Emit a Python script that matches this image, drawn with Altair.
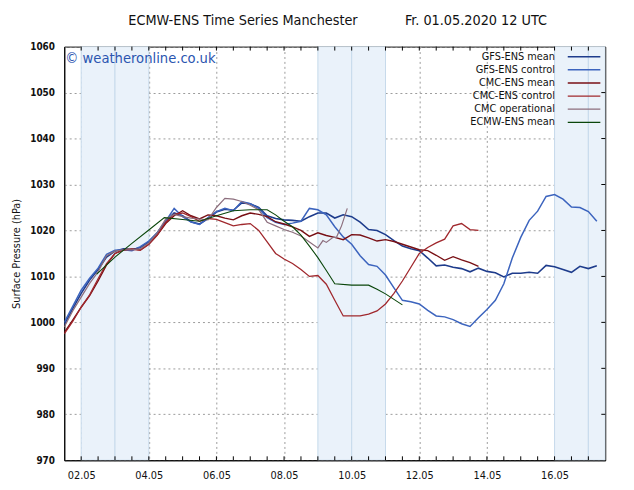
import altair as alt
import pandas as pd

FONT = "DejaVu Sans Condensed, DejaVu Sans, sans-serif"
W, H = 548, 419

series_names = ["GFS-ENS mean", "GFS-ENS control", "CMC-ENS mean",
                "CMC-ENS control", "CMC operational", "ECMW-ENS mean"]
series_colors = ["#1e3c8c", "#3c64be", "#780f14", "#a0282d", "#8c6e7d", "#0a460a"]
series_widths = [1.6, 1.1, 1.6, 1.1, 1.1, 1.3]

# time in days of May 2020 (1.5 = 01.05 12 UTC)
def six_hourly(start, n):
    return [start + 0.25 * i for i in range(n)]

gfs_mean_v = [999.5, 1003.0, 1006.3, 1009.2, 1011.5, 1014.2, 1015.5, 1016.0, 1015.8, 1016.3,
              1017.5, 1019.5, 1022.0, 1023.8, 1023.2, 1021.9, 1021.4, 1022.6, 1024.0, 1024.6,
              1024.4, 1026.0, 1025.8, 1025.0, 1023.2, 1022.6, 1022.3, 1022.2, 1022.0, 1023.0,
              1023.8, 1023.8, 1022.7, 1023.4, 1023.0, 1021.8, 1020.2, 1020.0, 1019.1, 1017.8,
              1016.6, 1016.0, 1015.6, 1014.0, 1012.3, 1012.5, 1012.0, 1011.7, 1011.0, 1011.8,
              1011.1, 1010.8, 1009.9, 1010.7, 1010.7, 1010.9, 1010.7, 1012.4, 1012.1, 1011.5,
              1010.9, 1012.2, 1011.7, 1012.3]
gfs_mean_t = six_hourly(1.5, len(gfs_mean_v))

gfs_ctrl_v = [1000.0, 1003.5, 1007.0, 1009.6, 1011.8, 1014.8, 1015.7, 1015.8, 1015.6, 1016.5,
              1017.7, 1019.5, 1022.0, 1024.8, 1023.0, 1021.8, 1021.3, 1022.8, 1024.1, 1024.8,
              1024.3, 1026.3, 1025.8, 1024.8, 1022.8, 1021.8, 1021.3, 1021.6, 1022.0, 1024.8,
              1024.5, 1023.4, 1020.8, 1018.6, 1017.0, 1014.5, 1012.6, 1012.2, 1010.3, 1007.5,
              1004.8, 1004.5, 1004.0, 1002.6, 1001.4, 1001.2, 1000.6, 999.7, 999.1, 1001.0,
              1002.8, 1004.8, 1008.4, 1014.0, 1018.5, 1022.2, 1024.2, 1027.4, 1027.8, 1026.8,
              1025.1, 1025.0, 1024.1, 1022.0]
gfs_ctrl_t = six_hourly(1.5, len(gfs_ctrl_v))

cmc_mean_v = [997.8, 1000.5, 1003.3, 1005.8, 1009.0, 1012.5, 1015.0, 1015.8, 1016.0, 1015.8,
              1017.0, 1019.0, 1021.5, 1023.2, 1024.3, 1023.2, 1022.5, 1023.4, 1023.2, 1022.7,
              1022.3, 1023.2, 1023.8, 1023.5, 1023.0, 1021.9, 1021.4, 1020.8, 1020.0, 1018.7,
              1019.5, 1018.9, 1018.5, 1018.0, 1019.1, 1019.0, 1018.4, 1017.7, 1018.0, 1017.6,
              1017.0, 1016.4, 1015.8, 1015.6, 1014.6, 1013.5, 1014.3, 1013.6, 1013.0, 1012.2]
cmc_mean_t = six_hourly(1.5, len(cmc_mean_v))

cmc_ctrl_v = [997.5, 1000.2, 1003.3, 1006.0, 1009.5, 1012.8, 1015.0, 1015.7, 1015.9, 1015.7,
              1017.0, 1019.0, 1021.8, 1023.5, 1023.8, 1023.0, 1022.0, 1022.6, 1022.4, 1021.7,
              1021.0, 1021.3, 1021.5, 1020.0, 1017.5, 1015.0, 1013.8, 1012.8, 1011.5, 1010.0,
              1010.2, 1008.3, 1004.8, 1001.4, 1001.4, 1001.4, 1001.8, 1002.5, 1004.0, 1006.3,
              1009.0, 1012.0, 1015.0, 1016.3, 1017.3, 1018.1, 1021.0, 1021.5, 1020.2, 1020.0]
cmc_ctrl_t = six_hourly(1.5, len(cmc_ctrl_v))

cmc_op_t = six_hourly(1.5, 31) + [9.15, 9.25, 9.45, 9.55, 9.7, 9.87]
cmc_op_v = [999.0, 1002.5, 1005.5, 1008.5, 1011.0, 1014.5, 1015.5, 1015.8, 1015.8, 1016.0,
            1017.3, 1019.5, 1022.5, 1023.5, 1023.0, 1022.7, 1022.5, 1022.3, 1025.0, 1027.0,
            1026.8, 1026.3, 1025.5, 1024.5, 1021.8, 1021.0, 1020.2, 1019.6, 1018.8, 1017.5,
            1016.2, 1017.8, 1017.4, 1018.5, 1018.5, 1021.0, 1024.8]

ecm_t = [2.46, 3.0, 3.5, 4.0, 4.46, 5.0, 5.5, 6.0, 6.5, 7.0, 7.5, 7.75, 8.0, 8.25, 8.5,
         8.75, 9.0, 9.25, 9.5, 10.0, 10.5, 10.75, 11.0, 11.25, 11.5]
ecm_v = [1010.5, 1014.2, 1017.2, 1020.1, 1022.8, 1022.4, 1022.0, 1023.2, 1024.3, 1024.5,
         1024.5, 1023.4, 1022.0, 1020.8, 1019.0, 1016.6, 1014.1, 1011.3, 1008.4, 1008.1,
         1008.1, 1007.2, 1006.2, 1005.0, 1003.8]

weekend_start = [2.0, 3.0, 9.0, 10.0, 16.0, 17.0]
weekend_end = [3.0, 4.0, 10.0, 11.0, 17.0, 17.5]

x_tick_days = [2.0 + 0.5 * i for i in range(31)]
y_tick_values = [980, 990, 1000, 1010, 1020, 1030, 1040, 1050]
x_label_days = [2, 4, 6, 8, 10, 12, 14, 16]


def iso(t):
    return (pd.Timestamp("2020-04-30") + pd.Timedelta(days=t)).strftime("%Y-%m-%dT%H:%M:%SZ")


rows = []
for name, ts, vs in [("GFS-ENS mean", gfs_mean_t, gfs_mean_v),
                     ("GFS-ENS control", gfs_ctrl_t, gfs_ctrl_v),
                     ("CMC-ENS mean", cmc_mean_t, cmc_mean_v),
                     ("CMC-ENS control", cmc_ctrl_t, cmc_ctrl_v),
                     ("CMC operational", cmc_op_t, cmc_op_v),
                     ("ECMW-ENS mean", ecm_t, ecm_v)]:
    for t, v in zip(ts, vs):
        rows.append({"series": name, "time": iso(t), "hPa": v})
df = pd.DataFrame(rows)

shade_df = pd.DataFrame({"start": [iso(t) for t in weekend_start],
                         "end": [iso(t) for t in weekend_end]})
xt_df = pd.DataFrame({"time": [iso(t) for t in x_tick_days]})
yt_df = pd.DataFrame({"v": y_tick_values})

xscale = alt.Scale(type="utc",
                   domain=[alt.DateTime(year=2020, month=5, date=1, hours=12, utc=True),
                           alt.DateTime(year=2020, month=5, date=17, hours=12, utc=True)])
yscale = alt.Scale(domain=[970, 1060], nice=False, zero=False)

xaxis = alt.Axis(values=[alt.DateTime(year=2020, month=5, date=d, utc=True) for d in x_label_days],
                 format="%d.%m", ticks=False, grid=True, gridDash=[2, 3], gridColor="#9a9a9a",
                 labelFont=FONT, labelFontSize=11, labelColor="#111", labelPadding=9,
                 domainColor="black", labelFlush=False)
yaxis = alt.Axis(values=list(range(970, 1061, 10)), format="d", ticks=False, grid=True,
                 gridDash=[2, 3], gridColor="#9a9a9a", labelFont=FONT, labelFontSize=10,
                 labelFontWeight="bold", labelColor="#111", labelPadding=10, domainColor="black",
                 title="Surface Pressure (hPa)", titleFont=FONT, titleFontSize=11,
                 titleFontWeight="normal", titleColor="#111", titleX=-43)

shade = alt.Chart(shade_df).mark_rect(fill="#eaf2fa", stroke="#c6d9eb", strokeWidth=1, clip=True).encode(
    x=alt.X("start:T", scale=xscale, axis=xaxis, title=None),
    x2="end:T",
    y=alt.Y(datum=970, type="quantitative", scale=yscale, axis=yaxis),
    y2=alt.Y2(datum=1060),
)

lines = alt.Chart(df).mark_line(clip=True).encode(
    x=alt.X("time:T", scale=xscale, axis=xaxis, title=None),
    y=alt.Y("hPa:Q", scale=yscale, axis=yaxis),
    color=alt.Color("series:N", scale=alt.Scale(domain=series_names, range=series_colors),
                    legend=alt.Legend(orient="none", legendX=520, legendY=3.7, title=None,
                                      symbolType="M-3,0H3", symbolSize=121, symbolStrokeWidth=1,
                                      labelAlign="right", labelOffset={"expr": "-36"},
                                      rowPadding=1.3, labelFont=FONT, labelFontSize=11,
                                      labelColor="#111", padding=0, labelLimit=0)),
    strokeWidth=alt.StrokeWidth("series:N", scale=alt.Scale(domain=series_names, range=series_widths),
                                legend=None),
)

bottom_ticks = alt.Chart(xt_df).mark_rule(color="black", strokeWidth=1).encode(
    x=alt.X("time:T", scale=xscale), y=alt.value(H), y2=alt.value(H - 4))
top_ticks = alt.Chart(xt_df).mark_rule(color="black", strokeWidth=1).encode(
    x=alt.X("time:T", scale=xscale), y=alt.value(0), y2=alt.value(4))
right_ticks = alt.Chart(yt_df).mark_rule(color="black", strokeWidth=1).encode(
    y=alt.Y("v:Q", scale=yscale), x=alt.value(W - 4), x2=alt.value(W))

title_left = alt.Chart(pd.DataFrame({"t": ["ECMW-ENS Time Series Manchester"]})).mark_text(
    font=FONT, fontSize=14.5, color="#111", align="center", baseline="middle").encode(
    text="t:N", x=alt.value(181), y=alt.value(-26))
title_right = alt.Chart(pd.DataFrame({"t": ["Fr. 01.05.2020 12 UTC"]})).mark_text(
    font=FONT, fontSize=14.5, color="#111", align="center", baseline="middle").encode(
    text="t:N", x=alt.value(417), y=alt.value(-26))
watermark = alt.Chart(pd.DataFrame({"t": ["© weatheronline.co.uk"]})).mark_text(
    font=FONT, fontSize=14.8, color="#2a55b0", align="left", baseline="middle").encode(
    text="t:N", x=alt.value(1), y=alt.value(13))

chart = alt.layer(shade, lines, bottom_ticks, top_ticks, right_ticks,
                  title_left, title_right, watermark).properties(
    width=W, height=H, autosize="none",
    padding={"left": 57, "top": 36, "right": 21, "bottom": 27},
    background="white",
).configure_view(stroke="black", strokeWidth=1)

chart.save("out.html", embed_options={"renderer": "svg", "actions": False})
